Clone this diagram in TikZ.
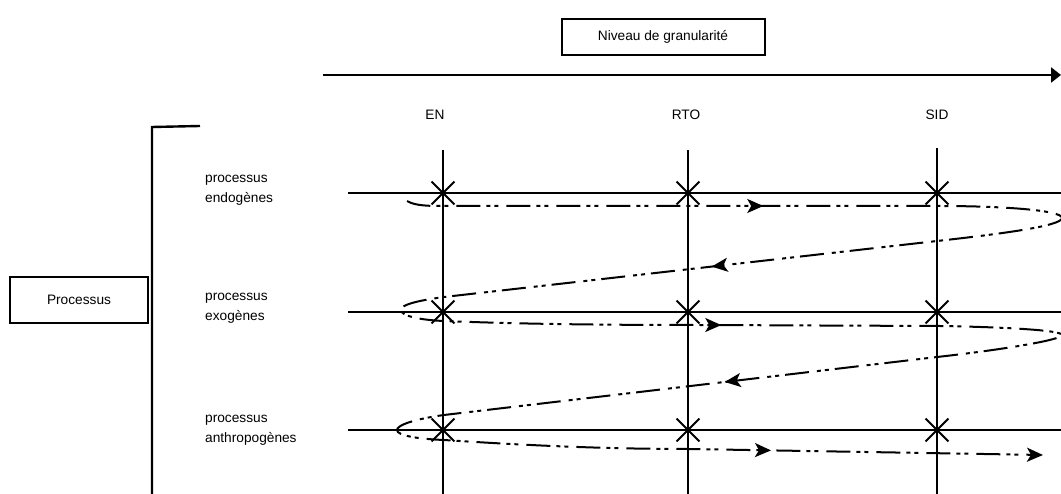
\documentclass[tikz,border=0pt]{standalone}
\usepackage{fontspec}
\setmainfont{Liberation Sans}
\usetikzlibrary{positioning}
\usetikzlibrary{arrows.meta}
\usetikzlibrary{shapes.misc}
\usetikzlibrary{decorations.markings}
\tikzset{
	every node/.style = {font=\fontsize{13.7}{19.5}\selectfont},
	fleche/.tip = {Stealth[length=16pt,width=14pt,inset=4pt]},
	boite/.style = {draw, line width=2pt, inner sep=0pt},
	trait/.style = {line width=2pt},
	marque/.style = {draw, cross out, line width=1.8pt, minimum size=21pt, inner sep=0pt},
	etiquette/.style = {anchor=west, align=left, inner sep=0pt},
	trajet/.style = {line width=2pt, dash pattern=on 24pt off 6pt on 4pt off 4pt on 4pt off 8pt,
		postaction={decorate},
		decoration={markings,
			mark=at position 357pt with {\arrow{fleche}},
			mark=at position 1013pt with {\arrow{fleche}},
			mark=at position 1652pt with {\arrow{fleche}},
			mark=at position 2335pt with {\arrow{fleche}},
			mark=at position 3045pt with {\arrow{fleche}}}}
}

\begin{document}
\begin{tikzpicture}[x=1pt, y=-1pt]
	\useasboundingbox (0,0) rectangle (1061,494);

	\node[boite, minimum width=203pt, minimum height=36pt] (niveau) at (663,37) {Niveau de granularité};
	\coordinate (axeA) at (323,75);
	\coordinate (axeB) at (1061,75);
	\draw[trait, line width=2.4pt, -{Triangle[length=10pt,width=15pt]}] (axeA) -- (axeB);

	\node[boite, line width=2.4pt, minimum width=138pt, minimum height=46pt] (processus) at (79,300) {Processus};
	\coordinate (accA) at (200,126);
	\coordinate (accB) at (152,127);
	\coordinate (accC) at (152,494);
	\draw[trait, line width=2.4pt] (accA) -- (accB) -- (accC);

	\foreach \nom/\x/\haut in {en/443/150, rto/688/150, sid/937/148} {
		\coordinate (\nom) at (\x,\haut);
		\coordinate (\nom-bas) at (\x,494);
		\draw[trait] (\nom) -- (\nom-bas);
	}
	\node (lEN) at (435,115) {EN};
	\node (lRTO) at (686,115) {RTO};
	\node (lSID) at (937,115) {SID};

	\foreach \nom/\y in {endo/193, exo/312, anthropo/430} {
		\coordinate (\nom) at (348,\y);
		\coordinate (\nom-fin) at (1061,\y);
		\draw[trait] (\nom) -- (\nom-fin);
		\foreach \col in {en, rto, sid}
			\node[marque] at (\col |- \nom) {};
	}
	\node[etiquette] (tEndo) at (205,190) {processus\\endogènes};
	\node[etiquette] (tExo) at (205,308) {processus\\exogènes};
	\node[etiquette] (tAnthropo) at (205,430) {processus\\anthropogènes};

	\draw[trajet, -{fleche}] (407,201) .. controls (415,206) and (430,206) .. (445,206) -- (940,206)
		.. controls (1000,206) and (1062,210) .. (1062,218)
		.. controls (1062,226) and (1000,234) .. (937,241) -- (444,297)
		.. controls (415,301) and (401,305) .. (401,310)
		.. controls (401,316) and (420,320) .. (444,321)
		.. controls (520,324) and (600,325) .. (700,325) -- (940,326)
		.. controls (1000,327) and (1062,330) .. (1062,335)
		.. controls (1062,340) and (1000,350) .. (937,357) -- (444,415)
		.. controls (415,419) and (397,425) .. (397,430)
		.. controls (397,436) and (420,439) .. (444,440)
		.. controls (520,445) and (600,449) .. (689,449) -- (1043,455);
\end{tikzpicture}
\end{document}
